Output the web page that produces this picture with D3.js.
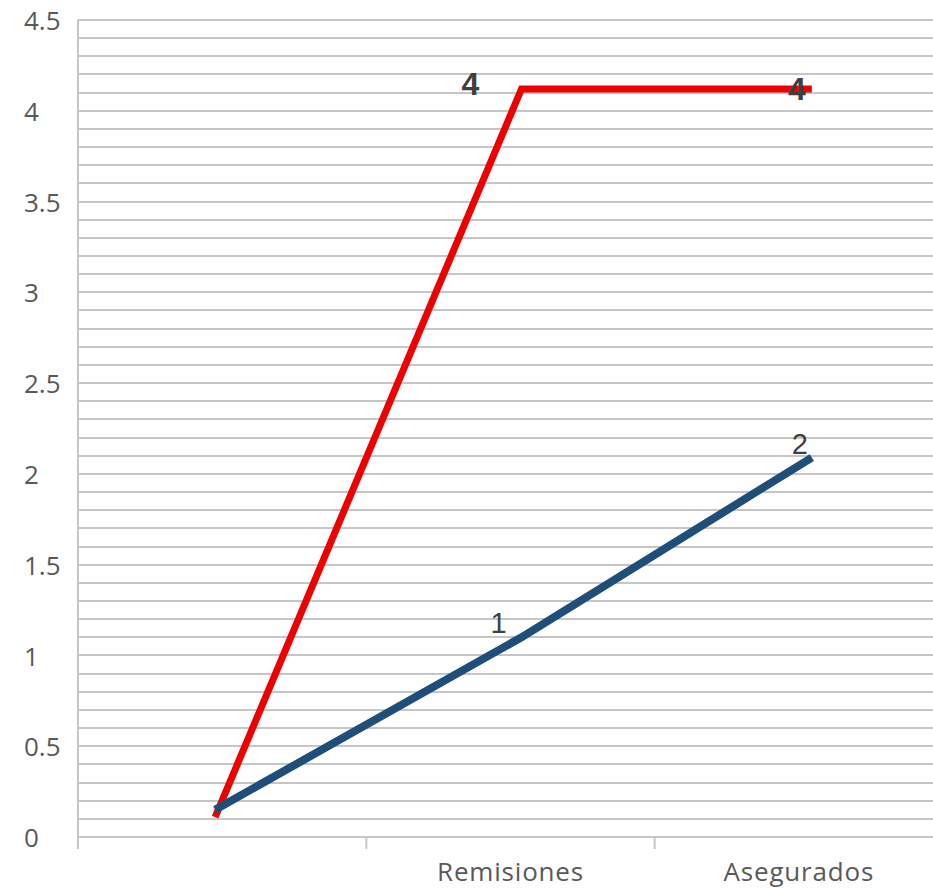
<!DOCTYPE html>
<html><head><meta charset="utf-8">
<script src="https://cdn.jsdelivr.net/npm/d3@7"></script>
<style>body{margin:0;background:#fff}</style>
</head><body>
<script>
const categories = ["", "Remisiones", "Asegurados"];
const redValues = [0.11, 4.12, 4.12];
const blueValues = [0.15, 1.1, 2.09];
const redLabels = ["", "4", "4"];
const blueLabels = ["", "1", "2"];
const yTicks = [0, 0.5, 1, 1.5, 2, 2.5, 3, 3.5, 4, 4.5];
const gridValues = d3.range(0, 46).map(i => i / 10);

(function () {
const W = 933, H = 892;
const svg = d3.select("body").append("svg").attr("width", W).attr("height", H);
const pLeft = 78, pRight = 943, pTop = 20, pBottom = 837;

const x = d3.scaleBand().domain(categories).range([pLeft, pRight]);
const y = d3.scaleLinear().domain([0, 4.5]).range([pBottom, pTop]);

// grid
svg.append("g").selectAll("line").data(gridValues).join("line")
  .attr("x1", pLeft).attr("x2", W)
  .attr("y1", d => Math.round(y(d))).attr("y2", d => Math.round(y(d)))
  .attr("stroke", "#c6c6c6").attr("stroke-width", 2);

// y axis line
svg.append("line").attr("x1", pLeft).attr("x2", pLeft).attr("y1", pTop).attr("y2", pBottom + 12)
  .attr("stroke", "#c6c6c6").attr("stroke-width", 2);

// x ticks
svg.append("g").selectAll("line").data(categories.slice(1)).join("line")
  .attr("x1", d => x(d)).attr("x2", d => x(d)).attr("y1", pBottom).attr("y2", pBottom + 12)
  .attr("stroke", "#c6c6c6").attr("stroke-width", 2);

// y tick labels
svg.append("g").selectAll("text").data(yTicks).join("text")
  .attr("x", 24).attr("y", d => y(d) + 1).attr("dy", "0.35em")
  .attr("text-anchor", "start")
  .attr("font-family", "'Open Sans', sans-serif").attr("font-size", 26)
  .attr("fill", "#595959").text(d => d);

// x labels
svg.append("g").selectAll("text").data(categories).join("text")
  .attr("x", d => x(d) + x.bandwidth() / 2).attr("y", 881)
  .attr("text-anchor", "middle")
  .attr("font-family", "'Open Sans', sans-serif").attr("font-size", 26)
  .attr("letter-spacing", "0.8px")
  .attr("fill", "#595959").text(d => d);

const xc = (d, i) => x(categories[i]) + x.bandwidth() / 2 + [-7, 11, 13][i];
const line = d3.line().x((d, i) => xc(d, i)).y(d => y(d));

svg.append("path").datum(redValues).attr("d", line)
  .attr("fill", "none").attr("stroke", "#ee0000").attr("stroke-width", 7);
svg.append("path").datum(blueValues).attr("d", line)
  .attr("fill", "none").attr("stroke", "#1f4e79").attr("stroke-width", 8);

// labels
svg.append("g").selectAll("text").data(redLabels).join("text")
  .attr("x", (d, i) => xc(d, i) + [0, -51, -15][i])
  .attr("y", (d, i) => y(redValues[i]) + [0, 6, 11][i])
  .attr("text-anchor", "middle")
  .attr("font-family", "'Liberation Sans', Arial, sans-serif").attr("font-size", 32).attr("font-weight", "bold")
  .attr("fill", "#404040").text(d => d);

svg.append("g").selectAll("text").data(blueLabels).join("text")
  .attr("x", (d, i) => xc(d, i) + [0, -23, -12][i])
  .attr("y", (d, i) => y(blueValues[i]) + [0, -4, -4][i])
  .attr("text-anchor", "middle")
  .attr("font-family", "'Liberation Sans', Arial, sans-serif").attr("font-size", 29)
  .attr("fill", "#404040").text(d => d);
})();
</script>
</body></html>
